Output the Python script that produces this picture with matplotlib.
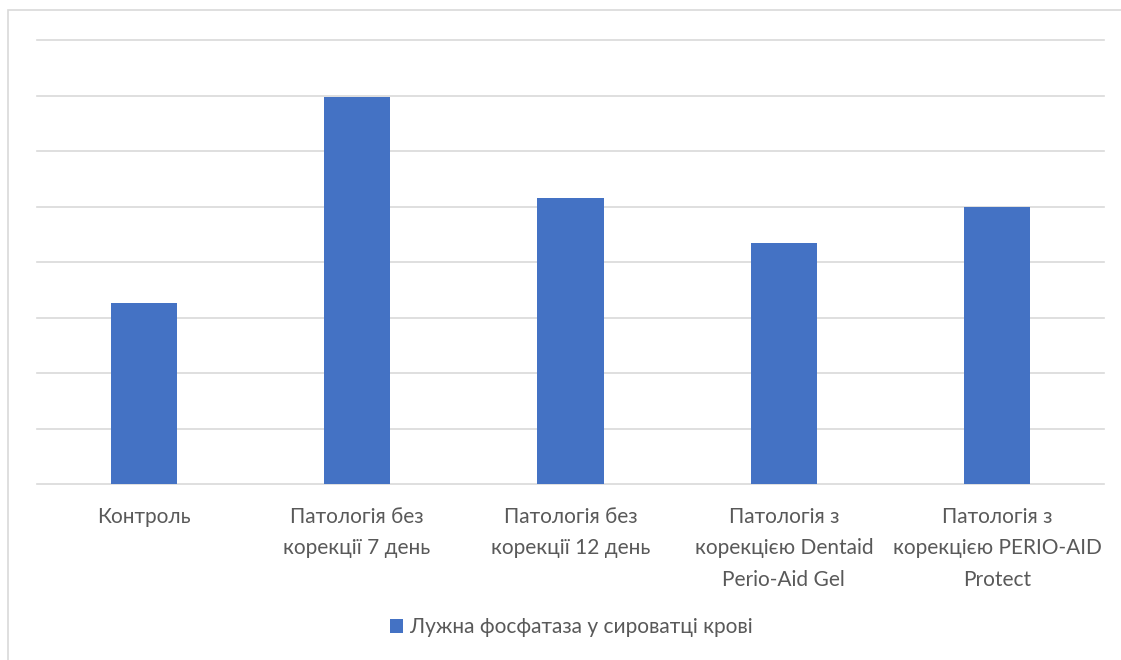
import matplotlib
matplotlib.use("Agg")
from matplotlib import pyplot as plt
from matplotlib.patches import Rectangle

plt.rcParams['font.family'] = ['Lato', 'DejaVu Sans']

categories = [
    "Контроль",
    "Патологія без\nкорекції 7 день",
    "Патологія без\nкорекції 12 день",
    "Патологія з\nкорекцією Dentaid\nPerio-Aid Gel",
    "Патологія з\nкорекцією PERIO-AID\nProtect",
]
values = [3.27, 6.98, 5.16, 4.35, 5.0]
series_name = "Лужна фосфатаза у сироватці крові"

bar_color = "#4472C4"
grid_color = "#D9D9D9"
text_color = "#595959"

fig = plt.figure(figsize=(11.21, 6.6), dpi=100)
fig.patch.set_facecolor("white")

# light chart-area frame, open to the right and bottom
fig.patches.append(Rectangle((8 / 1121, -0.1), 1.2, 1 - 10 / 660 + 0.1,
                             transform=fig.transFigure, fill=False,
                             edgecolor=grid_color, linewidth=1.2))

ax = fig.add_axes([37 / 1121, 1 - 484.3 / 660, 1067 / 1121, 444 / 660])
x = range(len(categories))
ax.bar(x, values, width=0.31, color=bar_color, label=series_name, zorder=3)

ax.set_xlim(-0.5, len(categories) - 0.5)
ax.set_ylim(0, 8)
ax.set_yticks(range(0, 9))
ax.yaxis.grid(True, color=grid_color, linewidth=1.2, zorder=0)
for gl in ax.get_ygridlines():
    gl.set_clip_on(False)
ax.tick_params(axis="y", left=False, labelleft=False)
ax.set_xticks(list(x))
ax.set_xticklabels(categories, fontsize=15, color=text_color, linespacing=1.72)
ax.tick_params(axis="x", length=0, pad=16)
for s in ax.spines.values():
    s.set_visible(False)

fig.legend(loc="center", bbox_to_anchor=(571 / 1121, 1 - 627 / 660),
           frameon=False, fontsize=15, labelcolor=text_color,
           handlelength=0.65, handleheight=0.65, handletextpad=0.3)

fig.savefig("out.png", dpi=100, facecolor="white")
